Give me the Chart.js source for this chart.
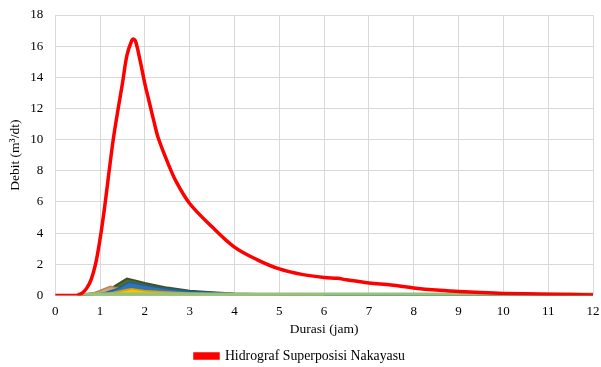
<!DOCTYPE html>
<html>
<head>
<meta charset="utf-8">
<script src="https://cdn.jsdelivr.net/npm/chart.js@4.4.1/dist/chart.umd.min.js"></script>
<style>
  body { margin: 0; background: #fff; }
  #wrap { width: 601px; height: 367px; }
</style>
</head>
<body>
<div id="wrap"><canvas id="myChart"></canvas></div>
<script>
// superposed hydrograph (jam, m3/dt)
const redX = [0, 0.4, 0.5, 0.6, 0.7, 0.8, 0.9, 1.0, 1.1, 1.2, 1.3, 1.4, 1.5, 1.6, 1.7, 1.75, 1.8, 1.9, 2.0, 2.1, 2.2, 2.3, 2.5, 2.7, 3.0, 3.5, 4.0, 4.5, 5.0, 5.5, 6.0, 6.3, 6.5, 7.0, 7.5, 8.0, 8.5, 9.0, 9.5, 10, 11, 12];
const redY = [0, 0, 0.02, 0.15, 0.45, 1.0, 2.0, 3.6, 5.6, 7.9, 10.1, 11.9, 13.6, 15.4, 16.3, 16.45, 16.25, 15.0, 13.6, 12.4, 11.2, 10.1, 8.6, 7.3, 5.9, 4.4, 3.1, 2.3, 1.7, 1.35, 1.15, 1.1, 1.0, 0.8, 0.67, 0.48, 0.34, 0.25, 0.18, 0.13, 0.08, 0.03];

// individual sub-catchment hydrographs
const darkGreenX = [0.5, 1.0, 1.3, 1.6, 1.8, 2.0, 2.5, 3.0, 3.5, 4.0, 5.0, 6.0, 7.0, 12];
const darkGreenY = [0, 0.2, 0.55, 1.08, 0.95, 0.8, 0.5, 0.3, 0.2, 0.12, 0.06, 0.03, 0.02, 0.01];
const tanX = [0.5, 0.9, 1.23, 1.5, 2.0, 3.0, 4.0, 6.0];
const tanY = [0, 0.2, 0.58, 0.4, 0.22, 0.1, 0.04, 0.01];
const blueX = [0.6, 1.1, 1.4, 1.65, 2.0, 2.5, 3.0, 4.0, 5.0, 7.0, 12];
const blueY = [0, 0.15, 0.45, 0.85, 0.65, 0.42, 0.26, 0.1, 0.05, 0.02, 0.01];
const greyX = [0.7, 1.3, 1.6, 2.0, 3.0, 4.0, 6.0];
const greyY = [0, 0.2, 0.4, 0.3, 0.15, 0.06, 0.01];
const yellowX = [0.7, 1.2, 1.5, 1.7, 2.0, 2.5, 3.0, 4.0, 6.0];
const yellowY = [0, 0.1, 0.3, 0.42, 0.3, 0.2, 0.13, 0.06, 0.02];
const lightGreenX = [0.5, 1.0, 2.0, 4.0, 6.0, 8.0, 10, 12];
const lightGreenY = [0.05, 0.06, 0.06, 0.06, 0.06, 0.06, 0.06, 0.06];

const xTicks = [0, 1, 2, 3, 4, 5, 6, 7, 8, 9, 10, 11, 12];
const yTicks = [0, 2, 4, 6, 8, 10, 12, 14, 16, 18];

function pts(xs, ys) {
  return xs.map((x, i) => ({ x: x, y: ys[i] }));
}
function area(label, xs, ys, fillCol, lineCol, bw) {
  return {
    label: label,
    data: pts(xs, ys),
    fill: 'origin',
    backgroundColor: fillCol,
    borderColor: lineCol,
    borderWidth: bw || 1.5,
    pointRadius: 0,
    tension: 0
  };
}

const serif = 'Liberation Serif';
const ctx = document.getElementById('myChart');
new Chart(ctx, {
  type: 'line',
  data: {
    datasets: [
      {
        label: 'Hidrograf Superposisi Nakayasu',
        data: pts(redX, redY),
        borderColor: '#ff0000',
        backgroundColor: '#ff0000',
        borderWidth: 3.5,
        pointRadius: 0,
        fill: false,
        tension: 0.35
      },
      area('lg', lightGreenX, lightGreenY, '#a9d18e', '#93c47d', 4),
      area('yl', yellowX, yellowY, '#ffc000', '#d9a300'),
      area('gr', greyX, greyY, '#a5a5a5', '#8c8c8c'),
      area('bl', blueX, blueY, '#2e75b6', '#255e93'),
      area('tn', tanX, tanY, '#c9a77c', '#b08a5a'),
      area('dg', darkGreenX, darkGreenY, '#546b2f', '#3d5220', 2)
    ]
  },
  options: {
    responsive: true,
    maintainAspectRatio: false,
    animation: false,
    layout: { padding: { left: 7, right: 8, top: 15, bottom: -6 } },
    plugins: {
      tooltip: { enabled: false },
      legend: {
        position: 'bottom',
        labels: {
          filter: (item) => item.datasetIndex === 0,
          boxWidth: 23,
          boxHeight: 4,
          color: '#000',
          font: { family: serif, size: 13.8 },
          padding: 2
        }
      }
    },
    scales: {
      x: {
        type: 'linear',
        min: 0,
        max: 12,
        afterBuildTicks: (axis) => { axis.ticks = xTicks.map(v => ({ value: v })); },
        afterFit: (axis) => { axis.paddingRight = 0; axis.height -= 6; },
        grid: { color: '#d9d9d9', drawTicks: false },
        border: { display: false },
        ticks: { color: '#000', padding: 8, font: { family: serif, size: 13 } },
        title: { display: true, text: 'Durasi (jam)', color: '#000', padding: { top: 0, bottom: 10 }, font: { family: serif, size: 13.5 } }
      },
      y: {
        min: 0,
        max: 18,
        afterBuildTicks: (axis) => { axis.ticks = yTicks.map(v => ({ value: v })); },
        afterFit: (axis) => { axis.paddingTop = 0; axis.width -= 9; },
        grid: { color: '#d9d9d9', drawTicks: false },
        border: { display: false },
        ticks: { color: '#000', padding: 12, font: { family: serif, size: 13 } },
        title: { display: true, text: 'Debit (m³/dt)', color: '#000', padding: { top: 0, bottom: 4 }, font: { family: serif, size: 13.5 } }
      }
    }
  }
});
</script>
</body>
</html>
